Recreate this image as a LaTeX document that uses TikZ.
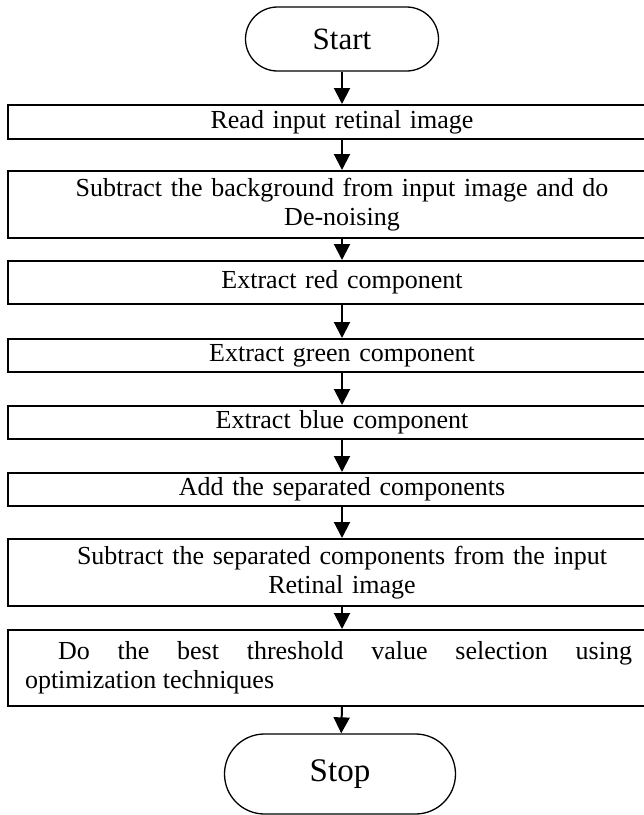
\documentclass[tikz,border=0pt]{standalone}
\usepackage{fontspec}
\setmainfont{Liberation Serif}
\usetikzlibrary{arrows.meta, positioning}

\begin{document}
\begin{tikzpicture}[x=1pt, y=-1pt,
	term/.style={draw, line width=1.3pt, inner sep=0pt},
	stepbox/.style={draw, line width=2pt, inner xsep=17pt, inner ysep=0pt, text width=634pt,
		align=center, font=\fontsize{26}{29}\selectfont},
	flow/.style={line width=2pt, -{Triangle[length=16pt, width=16pt]}}]
	\useasboundingbox (0,0) rectangle (644,815);
	\clip (0,0) rectangle (644,815);
	% terminals
	\node[term, minimum width=193pt, minimum height=64pt, rounded corners=32pt, font=\fontsize{31}{34}\selectfont] (start) at (342,39) {Start};
	\node[term, minimum width=231pt, minimum height=80pt, rounded corners=40pt, font=\fontsize{33}{36}\selectfont] (stop) at (340,774) {Stop};
	% steps
	\node[stepbox, minimum height=34pt] (b1) at (342,122) {Read input retinal image};
	\node[stepbox, minimum height=67pt] (b2) at (342,204.5) {Subtract the background from input image and do\\ De-noising};
	\node[stepbox, minimum height=43pt] (b3) at (342,282.5) {Extract red component};
	\node[stepbox, minimum height=33pt] (b4) at (342,355.5) {Extract green component};
	\node[stepbox, minimum height=33pt] (b5) at (342,422.5) {Extract blue component};
	\node[stepbox, minimum height=33pt] (b6) at (342,489.5) {Add the separated components};
	\node[stepbox, minimum height=67pt] (b7) at (342,572.5) {Subtract the separated components from the input\\ Retinal image};
	\node[stepbox, minimum height=76pt, text width=607pt, align=justify] (b8) at (328.5,668)
		{\hspace*{33pt}Do the best threshold value selection using\linebreak optimization techniques};
	% connectors
	\draw[flow] (start) -- (b1);
	\foreach \a/\b in {b1/b2,b2/b3,b3/b4,b4/b5,b5/b6,b6/b7}
		\draw[flow] (\a) -- (\b);
	\draw[flow] (b7) -- (b7 |- b8.north);
	\draw[flow] (b7 |- b8.south) -- (stop);
\end{tikzpicture}
\end{document}
